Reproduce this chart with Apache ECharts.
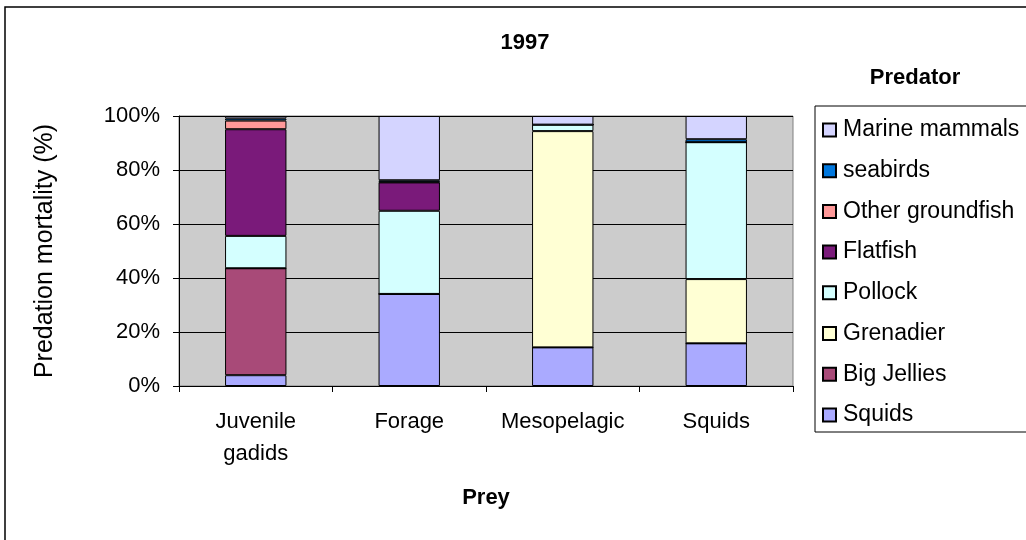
<!DOCTYPE html>
<html>
<head>
<meta charset="utf-8">
<title>1997</title>
<script src="https://cdn.jsdelivr.net/npm/echarts@6/dist/echarts.min.js"></script>
<style>
  html, body { margin: 0; padding: 0; background: #fff; }
  #chart { width: 1026px; height: 540px; }
</style>
</head>
<body>
<div id="chart"></div>
<script>
// prey groups on the x axis
var categories = ['Juvenile\ngadids', 'Forage', 'Mesopelagic', 'Squids'];

// predation mortality share (%) per predator, stacked bottom -> top
var squids          = [4.0, 34.1, 14.3, 15.8];
var bigJellies      = [39.6, 0, 0, 0];
var grenadier       = [0, 0, 80.1, 23.8];
var pollock         = [12.0, 30.8, 2.4, 50.7];
var flatfish        = [39.5, 10.5, 0, 0];
var otherGroundfish = [3.2, 0.2, 0, 0];
var seabirds        = [0.8, 0.6, 0, 1.1];
var marineMammals   = [0.9, 23.8, 3.2, 8.6];

var yTicks = [0, 20, 40, 60, 80, 100];

var seriesDefs = [
  ['Squids', squids, '#AAAAFF'],
  ['Big Jellies', bigJellies, '#A84A78'],
  ['Grenadier', grenadier, '#FFFFD4'],
  ['Pollock', pollock, '#D4FFFF'],
  ['Flatfish', flatfish, '#7A1A7A'],
  ['Other groundfish', otherGroundfish, '#FF9999'],
  ['seabirds', seabirds, '#0077DD'],
  ['Marine mammals', marineMammals, '#D4D4FF']
];

var FONT = 'Liberation Sans, Arial, sans-serif';

var series = seriesDefs.map(function (d) {
  return {
    name: d[0], type: 'bar', stack: 'all', barWidth: '40%',
    data: d[1],
    itemStyle: { color: d[2], borderColor: '#000', borderWidth: 1 },
    emphasis: { disabled: true }
  };
});

var legendOrder = seriesDefs.map(function (d) { return d[0]; }).reverse();

var chart = echarts.init(document.getElementById('chart'));
chart.setOption({
  animation: false,
  backgroundColor: '#fff',
  title: {
    text: '1997', left: 520, top: 27, textAlign: 'center',
    textStyle: { fontFamily: FONT, fontSize: 22, fontWeight: 'bold', color: '#000' }
  },
  grid: { left: 179, right: 233, top: 116, bottom: 154, show: true,
          backgroundColor: '#CCCCCC', borderColor: '#808080', borderWidth: 1 },
  xAxis: {
    type: 'category', data: categories,
    name: 'Prey', nameLocation: 'middle', nameGap: 101,
    nameTextStyle: { fontFamily: FONT, fontSize: 22, fontWeight: 'bold', color: '#000' },
    axisLine: { lineStyle: { color: '#000' } },
    axisTick: { show: true, length: 6, lineStyle: { color: '#000' } },
    axisLabel: { interval: 0, hideOverlap: false, fontFamily: FONT, fontSize: 22, color: '#000',
                 margin: 20, lineHeight: 32 }
  },
  yAxis: {
    type: 'value', min: 0, max: 100, interval: 20,
    name: 'Predation mortality (%)', nameLocation: 'middle', nameGap: 121,
    nameTextStyle: { fontFamily: FONT, fontSize: 25, color: '#000' },
    axisLine: { show: true, lineStyle: { color: '#000' } },
    axisTick: { show: true, length: 6, lineStyle: { color: '#000' } },
    axisLabel: { fontFamily: FONT, fontSize: 22, color: '#000', margin: 19,
                 formatter: function (v) { return yTicks.indexOf(v) >= 0 ? v + '%' : ''; } },
    splitLine: { lineStyle: { color: '#000', width: 1 } }
  },
  legend: {
    orient: 'vertical', left: 817, top: 113,
    data: legendOrder, icon: 'rect', itemWidth: 13, itemHeight: 13, itemGap: 16.7,
    textStyle: { fontFamily: FONT, fontSize: 23, lineHeight: 24, color: '#000', padding: [0, 0, 0, 2] },
    selectedMode: false
  },
  graphic: [
    { type: 'rect', shape: { x: 5, y: 7, width: 1040, height: 550 },
      style: { fill: null, stroke: '#000', lineWidth: 1.5 }, silent: true },
    { type: 'rect', shape: { x: 815, y: 106, width: 230, height: 326 },
      style: { fill: null, stroke: '#000', lineWidth: 1 }, silent: true },
    { type: 'text', x: 915, y: 67,
      style: { text: 'Predator', fontFamily: FONT, fontSize: 22, fontWeight: 'bold', fill: '#000', align: 'center' } }
  ],
  series: series
});
</script>
</body>
</html>
